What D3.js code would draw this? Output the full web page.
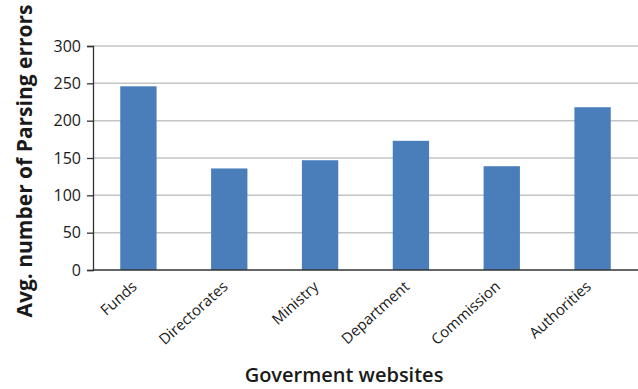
<!DOCTYPE html>
<html>
<head>
<meta charset="utf-8">
<script src="https://cdn.jsdelivr.net/npm/d3@7"></script>
<style>
  body { margin: 0; background: #fff; }
  text { font-family: "Open Sans", "Noto Sans", sans-serif; fill: #1a1a1a; }
</style>
</head>
<body>
<svg id="chart" width="638" height="389"></svg>
<script>
// chart data
const categories = ["Funds", "Directorates", "Ministry", "Department", "Commission", "Authorities"];
const errors = [246, 136, 147, 173, 139, 218];
const yTicks = [0, 50, 100, 150, 200, 250, 300];

const data = categories.map((c, i) => ({ name: c, value: errors[i] }));

const svg = d3.select("#chart");
const margin = { left: 93, right: 0, top: 46, bottom: 119 };
const W = 638, H = 389;

const x = d3.scaleBand()
  .domain(categories)
  .range([margin.left, W - margin.right])
  .paddingInner(0.6)
  .paddingOuter(0.3);

const y = d3.scaleLinear()
  .domain([0, 300])
  .range([H - margin.bottom, margin.top]);

// gridlines
svg.append("g")
  .selectAll("line")
  .data(yTicks.slice(1))
  .join("line")
  .attr("x1", margin.left)
  .attr("x2", W)
  .attr("y1", (d) => y(d))
  .attr("y2", (d) => y(d))
  .attr("stroke", "#c4c4c4")
  .attr("stroke-width", 1.5);

// bars
svg.append("g")
  .selectAll("rect")
  .data(data)
  .join("rect")
  .attr("x", (d) => x(d.name))
  .attr("width", x.bandwidth())
  .attr("y", (d) => y(d.value))
  .attr("height", (d) => y(0) - y(d.value))
  .attr("fill", "#4a7ebb");

// y axis
const yAxis = svg.append("g")
  .attr("transform", `translate(${margin.left},0)`)
  .call(d3.axisLeft(y).tickValues(yTicks).tickSize(6).tickPadding(6));
yAxis.select(".domain").attr("stroke", "#333").attr("stroke-width", 1.3);
yAxis.selectAll(".tick line").attr("stroke", "#333").attr("stroke-width", 1.3);
yAxis.selectAll(".tick text")
  .style("font-size", "16px")
  .style("font-family", "'Open Sans', sans-serif")
  .attr("fill", "#1a1a1a");

// x axis baseline
svg.append("line")
  .attr("x1", margin.left)
  .attr("x2", W)
  .attr("y1", y(0))
  .attr("y2", y(0))
  .attr("stroke", "#333")
  .attr("stroke-width", 1.3);

// rotated category labels
svg.append("g")
  .selectAll("text")
  .data(categories)
  .join("text")
  .attr("transform", (d) => `translate(${x(d) + x.bandwidth() / 2 - 4},${y(0) + 14}) rotate(-42)`)
  .attr("text-anchor", "end")
  .attr("dy", "0.35em")
  .style("font-size", "15px")
  .text((d) => d);

// axis titles
svg.append("text")
  .attr("transform", `translate(32,${161}) rotate(-90)`)
  .attr("text-anchor", "middle")
  .style("font-size", "21px")
  .style("font-weight", "bold")
  .text("Avg. number of Parsing errors");

svg.append("text")
  .attr("x", 344)
  .attr("y", 382)
  .attr("text-anchor", "middle")
  .style("font-size", "20px")
  .style("font-weight", "600")
  .text("Goverment websites");
</script>
</body>
</html>
